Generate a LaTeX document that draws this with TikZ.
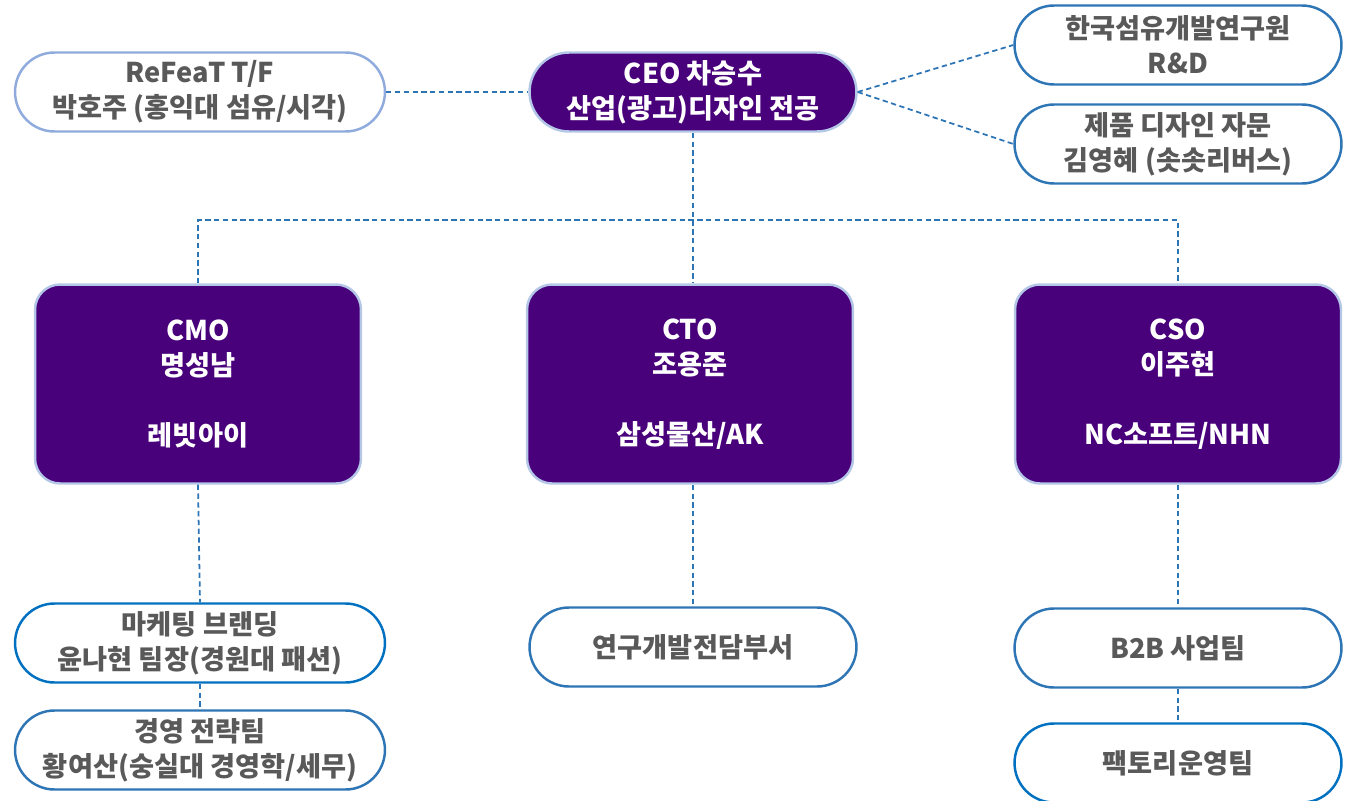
\documentclass[tikz,border=0pt]{standalone}
\usepackage{fontspec}
\newfontfamily\kr{Noto Sans CJK KR}
\usepackage{tikz}

\definecolor{ceopurple}{HTML}{48007B}
\definecolor{paleblue}{HTML}{B4C7E7}
\definecolor{softblue}{HTML}{8FAADC}
\definecolor{boxblue}{HTML}{2E75B6}
\definecolor{deepblue}{HTML}{0070C0}
\definecolor{txtgray}{HTML}{595959}

\begin{document}
\begin{tikzpicture}[x=0.02cm,y=-0.02cm,
	pill/.style={draw=boxblue,line width=1.4pt,fill=white,rounded corners=0.79cm,
		minimum width=6.54cm,minimum height=1.58cm,align=center,text=txtgray,
		font=\kr\bfseries\fontsize{15.5}{20}\selectfont},
	widepill/.style={pill,minimum width=7.4cm},
	headpill/.style={pill,draw=paleblue,fill=ceopurple,text=white},
	chief/.style={draw=paleblue,line width=1.4pt,fill=ceopurple,rounded corners=0.5cm,
		minimum width=6.52cm,minimum height=3.98cm,align=center,text=white,
		font=\kr\bfseries\fontsize{15.5}{20}\selectfont},
	link/.style={draw=boxblue,line width=1pt,dash pattern=on 3pt off 2pt}]
	\useasboundingbox (0,0) rectangle (1356,801);
			\node[widepill,draw=softblue] (refeat) at (200,92) {ReFeaT T/F\\박호주 (홍익대 섬유/시각)};
			\node[headpill] (ceo) at (693,92) {CEO 차승수\\산업(광고)디자인 전공};
			\node[pill] (kitech) at (1178,45) {한국섬유개발연구원\\R\&D};
			\node[pill] (advisor) at (1178,144) {제품 디자인 자문\\김영혜 (솟솟리버스)};
			\node[chief] (cmo) at (198,384) {CMO\\명성남\\[20pt]레빗아이};
			\node[chief] (cto) at (690,384) {CTO\\조용준\\[20pt]삼성물산/AK};
			\node[chief] (cso) at (1178,384) {CSO\\이주현\\[20pt]NC소프트/NHN};
			\node[widepill,draw=deepblue] (mkt) at (200,643) {마케팅 브랜딩\\윤나현 팀장(경원대 패션)};
			\node[widepill] (mgmt) at (200,750) {경영 전략팀\\황여산(숭실대 경영학/세무)};
			\node[pill] (rnd) at (693,647) {연구개발전담부서};
			\node[pill] (b2b) at (1178,648) {B2B 사업팀};
			\node[pill,draw=deepblue] (factory) at (1178,763) {팩토리운영팀};
			\draw[link] (refeat.east) -- (ceo.west);
			\draw[link] (ceo.east) -- (kitech.west);
			\draw[link] (ceo.east) -- (advisor.west);
			\draw[link] (ceo.south) -- (ceo.south |- cto.north);
			\draw[link] (cmo.north) -- ++(0,-63) -| (cso.north);
			\draw[link] (cmo.south) -- (mkt.north);
			\draw[link] (mkt.south) -- (mgmt.north);
			\draw[link] (rnd.north |- cto.south) -- (rnd.north);
			\draw[link] (cso.south) -- (b2b.north);
			\draw[link] (b2b.south) -- (factory.north);
		\end{tikzpicture}
\end{document}
